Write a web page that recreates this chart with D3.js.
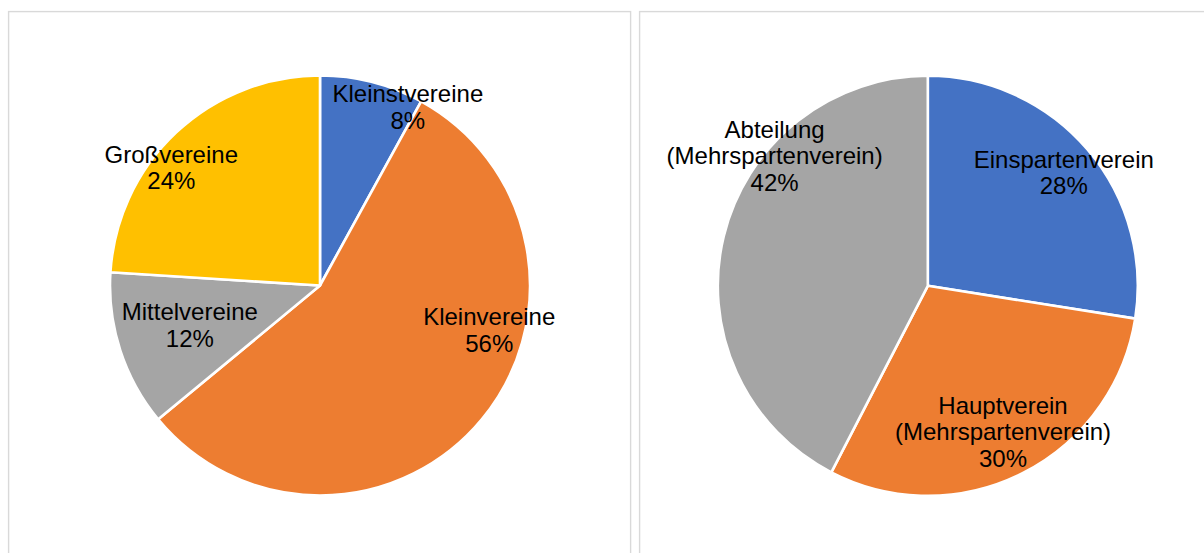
<!DOCTYPE html>
<html>
<head>
<meta charset="utf-8">
<script src="https://cdn.jsdelivr.net/npm/d3@7"></script>
<style>
  html, body { margin: 0; padding: 0; background: #fff; }
  svg { display: block; }
  text { font-family: "Liberation Sans", Arial, sans-serif; }
</style>
</head>
<body>
<svg id="chart" width="1204" height="553"></svg>
<script>
// ---- data ----
const leftCategories = ["Kleinstvereine", "Kleinvereine", "Mittelvereine", "Großvereine"];
const leftValues = [8, 56, 12, 24];
const rightCategories = ["Einspartenverein", "Hauptverein (Mehrspartenverein)", "Abteilung (Mehrspartenverein)"];
const rightValues = [27.5, 30.1, 42.4];

// ---- styling / layout ----
const leftColors = ["#4472C4", "#ED7D31", "#A5A5A5", "#FFC000"];
const rightColors = ["#4472C4", "#ED7D31", "#A5A5A5"];
// label placement (polar: angle in degrees clockwise from top, distance from centre)
const leftLabelLayout = [[26.2, 199], [104.75, 175], [253.2, 136], [308.5, 190]];
const rightLabelLayout = [[50.2, 177], [152.7, 164], [310.35, 201]];
const leftLines = [["Kleinstvereine"], ["Kleinvereine"], ["Mittelvereine"], ["Großvereine"]];
const rightLines = [["Einspartenverein"], ["Hauptverein", "(Mehrspartenverein)"], ["Abteilung", "(Mehrspartenverein)"]];

const svg = d3.select("#chart");
const radius = 210;
const fontSize = 24;
const lineH = 26.5;

// panel borders
svg.append("rect").attr("x", 8.6).attr("y", 11.6).attr("width", 622).attr("height", 620)
  .attr("fill", "none").attr("stroke", "#d9d9d9").attr("stroke-width", 1.4);
svg.append("rect").attr("x", 639.6).attr("y", 11.6).attr("width", 620).attr("height", 620)
  .attr("fill", "none").attr("stroke", "#d9d9d9").attr("stroke-width", 1.4);

function drawPie(cx, cy, cats, vals, colors, layout, lines) {
  const total = d3.sum(vals);
  const pie = d3.pie().sort(null).value(d => d)(vals);
  const arc = d3.arc().innerRadius(0).outerRadius(radius);
  const g = svg.append("g").attr("transform", `translate(${cx},${cy})`);
  g.selectAll("path").data(pie).join("path")
    .attr("d", arc)
    .attr("fill", (d, i) => colors[i])
    .attr("stroke", "#fff")
    .attr("stroke-width", 2.6)
    .attr("stroke-linejoin", "round");
  pie.forEach((d, i) => {
    const a = layout[i][0] * Math.PI / 180, r = layout[i][1];
    const x = r * Math.sin(a), y = -r * Math.cos(a);
    const all = lines[i].concat([Math.round(vals[i] / total * 100) + "%"]);
    const n = all.length;
    const t = g.append("text")
      .attr("text-anchor", "middle")
      .attr("font-size", fontSize)
      .attr("fill", "#000");
    all.forEach((s, k) => {
      t.append("tspan")
        .attr("x", x)
        .attr("y", y + (k - (n - 1) / 2) * lineH + fontSize * 0.36)
        .text(s);
    });
  });
}

drawPie(320, 285.5, leftCategories, leftValues, leftColors, leftLabelLayout, leftLines);
drawPie(927.8, 285.8, rightCategories, rightValues, rightColors, rightLabelLayout, rightLines);
</script>
</body>
</html>
